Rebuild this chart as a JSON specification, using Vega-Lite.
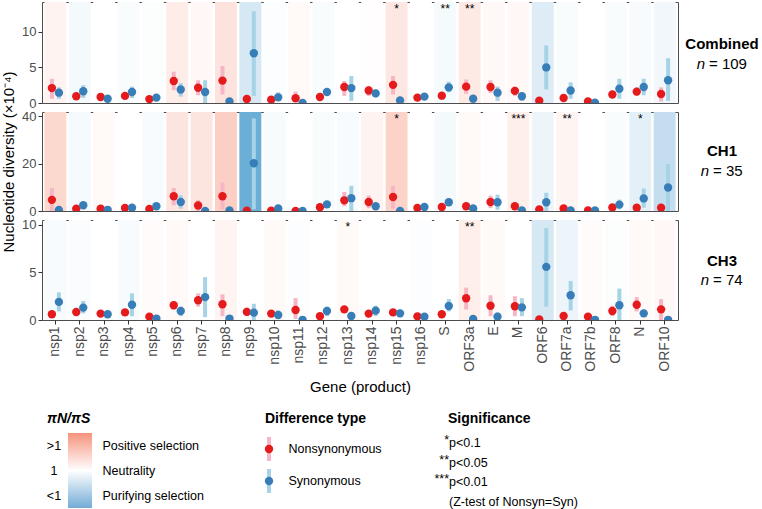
{
  "$schema": "https://vega.github.io/schema/vega-lite/v6.json",
  "padding": {"left": 1, "top": 1, "right": 0, "bottom": 0},
  "columns": 2,
  "align": "each",
  "bounds": "flush",
  "spacing": {"row": 9, "column": 4},
  "config": {
    "font": "Liberation Sans",
    "view": {"stroke": "#4d4d4d", "strokeWidth": 1},
    "axis": {"labelFont": "Liberation Sans", "titleFont": "Liberation Sans", "labelColor": "#4d4d4d", "tickColor": "#333333", "grid": false, "domain": false, "titleFontWeight": "normal", "titleColor": "#000000"},
    "title": {"font": "Liberation Sans", "fontWeight": "bold", "fontSize": 14, "anchor": "start", "color": "#000000", "offset": 7},
    "text": {"font": "Liberation Sans", "color": "#000000"}
  },
  "datasets": {
    "bg": [
      {"panel": "Combined", "gene": "nsp1", "pnps": 1.35}, {"panel": "Combined", "gene": "nsp2", "pnps": 0.8}, {"panel": "Combined", "gene": "nsp3", "pnps": 1.0}, {"panel": "Combined", "gene": "nsp4", "pnps": 0.88}, {"panel": "Combined", "gene": "nsp5", "pnps": 0.95}, {"panel": "Combined", "gene": "nsp6", "pnps": 1.6}, {"panel": "Combined", "gene": "nsp7", "pnps": 1.2}, {"panel": "Combined", "gene": "nsp8", "pnps": 2.0}, {"panel": "Combined", "gene": "nsp9", "pnps": 0.43}, {"panel": "Combined", "gene": "nsp10", "pnps": 0.92}, {"panel": "Combined", "gene": "nsp11", "pnps": 1.15}, {"panel": "Combined", "gene": "nsp12", "pnps": 0.88}, {"panel": "Combined", "gene": "nsp13", "pnps": 1.0}, {"panel": "Combined", "gene": "nsp14", "pnps": 1.05}, {"panel": "Combined", "gene": "nsp15", "pnps": 1.8}, {"panel": "Combined", "gene": "nsp16", "pnps": 1.0}, {"panel": "Combined", "gene": "S", "pnps": 0.82}, {"panel": "Combined", "gene": "ORF3a", "pnps": 1.7}, {"panel": "Combined", "gene": "E", "pnps": 1.2}, {"panel": "Combined", "gene": "M", "pnps": 1.2}, {"panel": "Combined", "gene": "ORF6", "pnps": 0.5}, {"panel": "Combined", "gene": "ORF7a", "pnps": 0.88}, {"panel": "Combined", "gene": "ORF7b", "pnps": 1.0}, {"panel": "Combined", "gene": "ORF8", "pnps": 0.88}, {"panel": "Combined", "gene": "N", "pnps": 0.86}, {"panel": "Combined", "gene": "ORF10", "pnps": 0.75},
      {"panel": "CH1", "gene": "nsp1", "pnps": 2.6}, {"panel": "CH1", "gene": "nsp2", "pnps": 0.82}, {"panel": "CH1", "gene": "nsp3", "pnps": 1.15}, {"panel": "CH1", "gene": "nsp4", "pnps": 1.0}, {"panel": "CH1", "gene": "nsp5", "pnps": 0.85}, {"panel": "CH1", "gene": "nsp6", "pnps": 1.9}, {"panel": "CH1", "gene": "nsp7", "pnps": 1.9}, {"panel": "CH1", "gene": "nsp8", "pnps": 3.3}, {"panel": "CH1", "gene": "nsp9", "pnps": 0.05}, {"panel": "CH1", "gene": "nsp10", "pnps": 0.85}, {"panel": "CH1", "gene": "nsp11", "pnps": 1.0}, {"panel": "CH1", "gene": "nsp12", "pnps": 0.88}, {"panel": "CH1", "gene": "nsp13", "pnps": 0.85}, {"panel": "CH1", "gene": "nsp14", "pnps": 1.35}, {"panel": "CH1", "gene": "nsp15", "pnps": 3.0}, {"panel": "CH1", "gene": "nsp16", "pnps": 1.0}, {"panel": "CH1", "gene": "S", "pnps": 0.8}, {"panel": "CH1", "gene": "ORF3a", "pnps": 1.15}, {"panel": "CH1", "gene": "E", "pnps": 1.05}, {"panel": "CH1", "gene": "M", "pnps": 1.5}, {"panel": "CH1", "gene": "ORF6", "pnps": 0.7}, {"panel": "CH1", "gene": "ORF7a", "pnps": 1.3}, {"panel": "CH1", "gene": "ORF7b", "pnps": 1.0}, {"panel": "CH1", "gene": "ORF8", "pnps": 0.88}, {"panel": "CH1", "gene": "N", "pnps": 0.58}, {"panel": "CH1", "gene": "ORF10", "pnps": 0.3},
      {"panel": "CH3", "gene": "nsp1", "pnps": 0.85}, {"panel": "CH3", "gene": "nsp2", "pnps": 0.9}, {"panel": "CH3", "gene": "nsp3", "pnps": 1.0}, {"panel": "CH3", "gene": "nsp4", "pnps": 0.85}, {"panel": "CH3", "gene": "nsp5", "pnps": 1.1}, {"panel": "CH3", "gene": "nsp6", "pnps": 1.15}, {"panel": "CH3", "gene": "nsp7", "pnps": 1.0}, {"panel": "CH3", "gene": "nsp8", "pnps": 1.3}, {"panel": "CH3", "gene": "nsp9", "pnps": 1.0}, {"panel": "CH3", "gene": "nsp10", "pnps": 1.15}, {"panel": "CH3", "gene": "nsp11", "pnps": 0.92}, {"panel": "CH3", "gene": "nsp12", "pnps": 1.0}, {"panel": "CH3", "gene": "nsp13", "pnps": 1.15}, {"panel": "CH3", "gene": "nsp14", "pnps": 1.0}, {"panel": "CH3", "gene": "nsp15", "pnps": 1.0}, {"panel": "CH3", "gene": "nsp16", "pnps": 0.92}, {"panel": "CH3", "gene": "S", "pnps": 1.0}, {"panel": "CH3", "gene": "ORF3a", "pnps": 1.5}, {"panel": "CH3", "gene": "E", "pnps": 1.15}, {"panel": "CH3", "gene": "M", "pnps": 1.0}, {"panel": "CH3", "gene": "ORF6", "pnps": 0.43}, {"panel": "CH3", "gene": "ORF7a", "pnps": 0.7}, {"panel": "CH3", "gene": "ORF7b", "pnps": 1.1}, {"panel": "CH3", "gene": "ORF8", "pnps": 0.95}, {"panel": "CH3", "gene": "N", "pnps": 1.15}, {"panel": "CH3", "gene": "ORF10", "pnps": 1.2}
    ],
    "pts": [
      {"panel": "Combined", "gene": "nsp1", "type": "Nonsynonymous", "pi": 2.1, "lo": 0.6, "hi": 3.4}, {"panel": "Combined", "gene": "nsp1", "type": "Synonymous", "pi": 1.45, "lo": 0.6, "hi": 2.2},
      {"panel": "Combined", "gene": "nsp2", "type": "Nonsynonymous", "pi": 0.95, "lo": 0.7, "hi": 1.2}, {"panel": "Combined", "gene": "nsp2", "type": "Synonymous", "pi": 1.65, "lo": 0.7, "hi": 2.5},
      {"panel": "Combined", "gene": "nsp3", "type": "Nonsynonymous", "pi": 0.85, "lo": 0.65, "hi": 1.1}, {"panel": "Combined", "gene": "nsp3", "type": "Synonymous", "pi": 0.6, "lo": 0.4, "hi": 0.8},
      {"panel": "Combined", "gene": "nsp4", "type": "Nonsynonymous", "pi": 1.0, "lo": 0.75, "hi": 1.3}, {"panel": "Combined", "gene": "nsp4", "type": "Synonymous", "pi": 1.55, "lo": 0.7, "hi": 2.3},
      {"panel": "Combined", "gene": "nsp5", "type": "Nonsynonymous", "pi": 0.55, "lo": 0.35, "hi": 0.8}, {"panel": "Combined", "gene": "nsp5", "type": "Synonymous", "pi": 0.75, "lo": 0.35, "hi": 1.1},
      {"panel": "Combined", "gene": "nsp6", "type": "Nonsynonymous", "pi": 3.1, "lo": 1.8, "hi": 4.4}, {"panel": "Combined", "gene": "nsp6", "type": "Synonymous", "pi": 1.9, "lo": 0.9, "hi": 2.8},
      {"panel": "Combined", "gene": "nsp7", "type": "Nonsynonymous", "pi": 2.15, "lo": 1.1, "hi": 3.2}, {"panel": "Combined", "gene": "nsp7", "type": "Synonymous", "pi": 1.55, "lo": 0.0, "hi": 3.2},
      {"panel": "Combined", "gene": "nsp8", "type": "Nonsynonymous", "pi": 3.15, "lo": 1.2, "hi": 5.2}, {"panel": "Combined", "gene": "nsp8", "type": "Synonymous", "pi": 0.23, "lo": 0.0, "hi": 0.6},
      {"panel": "Combined", "gene": "nsp9", "type": "Nonsynonymous", "pi": 0.57, "lo": 0.3, "hi": 0.85}, {"panel": "Combined", "gene": "nsp9", "type": "Synonymous", "pi": 7.0, "lo": 1.0, "hi": 12.9},
      {"panel": "Combined", "gene": "nsp10", "type": "Nonsynonymous", "pi": 0.47, "lo": 0.25, "hi": 0.7}, {"panel": "Combined", "gene": "nsp10", "type": "Synonymous", "pi": 0.8, "lo": 0.3, "hi": 1.5},
      {"panel": "Combined", "gene": "nsp11", "type": "Nonsynonymous", "pi": 0.66, "lo": 0.2, "hi": 1.6}, {"panel": "Combined", "gene": "nsp11", "type": "Synonymous", "pi": 0.02, "lo": 0.0, "hi": 0.2},
      {"panel": "Combined", "gene": "nsp12", "type": "Nonsynonymous", "pi": 0.85, "lo": 0.6, "hi": 1.1}, {"panel": "Combined", "gene": "nsp12", "type": "Synonymous", "pi": 1.55, "lo": 1.2, "hi": 1.9},
      {"panel": "Combined", "gene": "nsp13", "type": "Nonsynonymous", "pi": 2.25, "lo": 1.0, "hi": 3.1}, {"panel": "Combined", "gene": "nsp13", "type": "Synonymous", "pi": 2.1, "lo": 0.3, "hi": 3.8},
      {"panel": "Combined", "gene": "nsp14", "type": "Nonsynonymous", "pi": 1.75, "lo": 1.0, "hi": 2.4}, {"panel": "Combined", "gene": "nsp14", "type": "Synonymous", "pi": 1.35, "lo": 0.8, "hi": 1.9},
      {"panel": "Combined", "gene": "nsp15", "type": "Nonsynonymous", "pi": 2.55, "lo": 1.2, "hi": 3.8}, {"panel": "Combined", "gene": "nsp15", "type": "Synonymous", "pi": 0.37, "lo": 0.1, "hi": 0.7},
      {"panel": "Combined", "gene": "nsp16", "type": "Nonsynonymous", "pi": 0.75, "lo": 0.55, "hi": 0.95}, {"panel": "Combined", "gene": "nsp16", "type": "Synonymous", "pi": 0.9, "lo": 0.6, "hi": 1.2},
      {"panel": "Combined", "gene": "S", "type": "Nonsynonymous", "pi": 1.03, "lo": 0.8, "hi": 1.3}, {"panel": "Combined", "gene": "S", "type": "Synonymous", "pi": 2.2, "lo": 1.5, "hi": 3.0},
      {"panel": "Combined", "gene": "ORF3a", "type": "Nonsynonymous", "pi": 2.3, "lo": 1.3, "hi": 3.3}, {"panel": "Combined", "gene": "ORF3a", "type": "Synonymous", "pi": 0.6, "lo": 0.2, "hi": 1.0},
      {"panel": "Combined", "gene": "E", "type": "Nonsynonymous", "pi": 2.25, "lo": 1.4, "hi": 3.2}, {"panel": "Combined", "gene": "E", "type": "Synonymous", "pi": 1.45, "lo": 0.3, "hi": 2.3},
      {"panel": "Combined", "gene": "M", "type": "Nonsynonymous", "pi": 1.7, "lo": 1.0, "hi": 2.3}, {"panel": "Combined", "gene": "M", "type": "Synonymous", "pi": 0.95, "lo": 0.3, "hi": 1.5},
      {"panel": "Combined", "gene": "ORF6", "type": "Nonsynonymous", "pi": 0.33, "lo": 0.0, "hi": 0.7}, {"panel": "Combined", "gene": "ORF6", "type": "Synonymous", "pi": 5.0, "lo": 1.9, "hi": 8.1},
      {"panel": "Combined", "gene": "ORF7a", "type": "Nonsynonymous", "pi": 0.7, "lo": 0.4, "hi": 1.0}, {"panel": "Combined", "gene": "ORF7a", "type": "Synonymous", "pi": 1.75, "lo": 0.6, "hi": 2.9},
      {"panel": "Combined", "gene": "ORF7b", "type": "Nonsynonymous", "pi": 0.23, "lo": 0.0, "hi": 0.5}, {"panel": "Combined", "gene": "ORF7b", "type": "Synonymous", "pi": 0.05, "lo": 0.0, "hi": 0.2},
      {"panel": "Combined", "gene": "ORF8", "type": "Nonsynonymous", "pi": 1.2, "lo": 0.7, "hi": 1.7}, {"panel": "Combined", "gene": "ORF8", "type": "Synonymous", "pi": 2.0, "lo": 0.6, "hi": 3.4},
      {"panel": "Combined", "gene": "N", "type": "Nonsynonymous", "pi": 1.6, "lo": 1.0, "hi": 2.2}, {"panel": "Combined", "gene": "N", "type": "Synonymous", "pi": 2.25, "lo": 1.1, "hi": 3.4},
      {"panel": "Combined", "gene": "ORF10", "type": "Nonsynonymous", "pi": 1.27, "lo": 0.2, "hi": 2.2}, {"panel": "Combined", "gene": "ORF10", "type": "Synonymous", "pi": 3.2, "lo": 0.3, "hi": 6.3},

      {"panel": "CH1", "gene": "nsp1", "type": "Nonsynonymous", "pi": 4.7, "lo": 0.0, "hi": 9.7}, {"panel": "CH1", "gene": "nsp1", "type": "Synonymous", "pi": 0.4, "lo": 0.0, "hi": 1.2},
      {"panel": "CH1", "gene": "nsp2", "type": "Nonsynonymous", "pi": 1.0, "lo": 0.3, "hi": 1.8}, {"panel": "CH1", "gene": "nsp2", "type": "Synonymous", "pi": 2.4, "lo": 1.0, "hi": 3.8},
      {"panel": "CH1", "gene": "nsp3", "type": "Nonsynonymous", "pi": 1.0, "lo": 0.4, "hi": 1.7}, {"panel": "CH1", "gene": "nsp3", "type": "Synonymous", "pi": 0.5, "lo": 0.0, "hi": 1.2},
      {"panel": "CH1", "gene": "nsp4", "type": "Nonsynonymous", "pi": 1.3, "lo": 0.5, "hi": 2.0}, {"panel": "CH1", "gene": "nsp4", "type": "Synonymous", "pi": 1.4, "lo": 0.5, "hi": 2.4},
      {"panel": "CH1", "gene": "nsp5", "type": "Nonsynonymous", "pi": 0.85, "lo": 0.2, "hi": 1.6}, {"panel": "CH1", "gene": "nsp5", "type": "Synonymous", "pi": 2.0, "lo": 0.8, "hi": 3.2},
      {"panel": "CH1", "gene": "nsp6", "type": "Nonsynonymous", "pi": 6.2, "lo": 2.4, "hi": 9.7}, {"panel": "CH1", "gene": "nsp6", "type": "Synonymous", "pi": 3.8, "lo": 1.0, "hi": 6.6},
      {"panel": "CH1", "gene": "nsp7", "type": "Nonsynonymous", "pi": 2.3, "lo": 0.0, "hi": 4.6}, {"panel": "CH1", "gene": "nsp7", "type": "Synonymous", "pi": 0.05, "lo": 0.0, "hi": 0.5},
      {"panel": "CH1", "gene": "nsp8", "type": "Nonsynonymous", "pi": 6.2, "lo": 0.7, "hi": 12.0}, {"panel": "CH1", "gene": "nsp8", "type": "Synonymous", "pi": 0.2, "lo": 0.0, "hi": 1.0},
      {"panel": "CH1", "gene": "nsp9", "type": "Nonsynonymous", "pi": 0.1, "lo": 0.0, "hi": 0.8}, {"panel": "CH1", "gene": "nsp9", "type": "Synonymous", "pi": 20.1, "lo": 0.7, "hi": 39.0},
      {"panel": "CH1", "gene": "nsp10", "type": "Nonsynonymous", "pi": 0.1, "lo": 0.0, "hi": 0.4}, {"panel": "CH1", "gene": "nsp10", "type": "Synonymous", "pi": 1.1, "lo": 0.0, "hi": 2.2},
      {"panel": "CH1", "gene": "nsp11", "type": "Nonsynonymous", "pi": 0.02, "lo": 0.0, "hi": 0.2}, {"panel": "CH1", "gene": "nsp11", "type": "Synonymous", "pi": 0.02, "lo": 0.0, "hi": 0.2},
      {"panel": "CH1", "gene": "nsp12", "type": "Nonsynonymous", "pi": 1.6, "lo": 0.6, "hi": 2.6}, {"panel": "CH1", "gene": "nsp12", "type": "Synonymous", "pi": 2.8, "lo": 1.5, "hi": 4.0},
      {"panel": "CH1", "gene": "nsp13", "type": "Nonsynonymous", "pi": 4.5, "lo": 2.0, "hi": 8.0}, {"panel": "CH1", "gene": "nsp13", "type": "Synonymous", "pi": 5.4, "lo": 0.0, "hi": 10.6},
      {"panel": "CH1", "gene": "nsp14", "type": "Nonsynonymous", "pi": 3.8, "lo": 1.2, "hi": 6.5}, {"panel": "CH1", "gene": "nsp14", "type": "Synonymous", "pi": 2.0, "lo": 0.8, "hi": 3.2},
      {"panel": "CH1", "gene": "nsp15", "type": "Nonsynonymous", "pi": 5.9, "lo": 1.0, "hi": 10.6}, {"panel": "CH1", "gene": "nsp15", "type": "Synonymous", "pi": 0.05, "lo": 0.0, "hi": 0.5},
      {"panel": "CH1", "gene": "nsp16", "type": "Nonsynonymous", "pi": 1.3, "lo": 0.4, "hi": 2.2}, {"panel": "CH1", "gene": "nsp16", "type": "Synonymous", "pi": 1.7, "lo": 0.6, "hi": 2.8},
      {"panel": "CH1", "gene": "S", "type": "Nonsynonymous", "pi": 1.7, "lo": 0.9, "hi": 2.5}, {"panel": "CH1", "gene": "S", "type": "Synonymous", "pi": 3.7, "lo": 2.4, "hi": 5.4},
      {"panel": "CH1", "gene": "ORF3a", "type": "Nonsynonymous", "pi": 2.0, "lo": 0.7, "hi": 3.4}, {"panel": "CH1", "gene": "ORF3a", "type": "Synonymous", "pi": 1.1, "lo": 0.0, "hi": 2.4},
      {"panel": "CH1", "gene": "E", "type": "Nonsynonymous", "pi": 3.8, "lo": 1.2, "hi": 6.5}, {"panel": "CH1", "gene": "E", "type": "Synonymous", "pi": 3.7, "lo": 0.5, "hi": 6.9},
      {"panel": "CH1", "gene": "M", "type": "Nonsynonymous", "pi": 2.0, "lo": 1.0, "hi": 3.0}, {"panel": "CH1", "gene": "M", "type": "Synonymous", "pi": 0.2, "lo": 0.0, "hi": 0.8},
      {"panel": "CH1", "gene": "ORF6", "type": "Nonsynonymous", "pi": 0.7, "lo": 0.0, "hi": 1.6}, {"panel": "CH1", "gene": "ORF6", "type": "Synonymous", "pi": 3.7, "lo": 0.0, "hi": 7.7},
      {"panel": "CH1", "gene": "ORF7a", "type": "Nonsynonymous", "pi": 1.1, "lo": 0.3, "hi": 2.0}, {"panel": "CH1", "gene": "ORF7a", "type": "Synonymous", "pi": 0.2, "lo": 0.0, "hi": 0.8},
      {"panel": "CH1", "gene": "ORF7b", "type": "Nonsynonymous", "pi": 0.2, "lo": 0.0, "hi": 0.6}, {"panel": "CH1", "gene": "ORF7b", "type": "Synonymous", "pi": 0.2, "lo": 0.0, "hi": 0.6},
      {"panel": "CH1", "gene": "ORF8", "type": "Nonsynonymous", "pi": 1.5, "lo": 0.5, "hi": 2.5}, {"panel": "CH1", "gene": "ORF8", "type": "Synonymous", "pi": 2.7, "lo": 0.7, "hi": 4.8},
      {"panel": "CH1", "gene": "N", "type": "Nonsynonymous", "pi": 1.4, "lo": 0.7, "hi": 2.2}, {"panel": "CH1", "gene": "N", "type": "Synonymous", "pi": 5.3, "lo": 1.4, "hi": 9.5},
      {"panel": "CH1", "gene": "ORF10", "type": "Nonsynonymous", "pi": 1.4, "lo": 0.0, "hi": 3.0}, {"panel": "CH1", "gene": "ORF10", "type": "Synonymous", "pi": 9.9, "lo": 0.0, "hi": 19.8},

      {"panel": "CH3", "gene": "nsp1", "type": "Nonsynonymous", "pi": 0.6, "lo": 0.4, "hi": 0.8}, {"panel": "CH3", "gene": "nsp1", "type": "Synonymous", "pi": 1.9, "lo": 0.9, "hi": 2.9},
      {"panel": "CH3", "gene": "nsp2", "type": "Nonsynonymous", "pi": 0.84, "lo": 0.6, "hi": 1.1}, {"panel": "CH3", "gene": "nsp2", "type": "Synonymous", "pi": 1.3, "lo": 0.7, "hi": 2.0},
      {"panel": "CH3", "gene": "nsp3", "type": "Nonsynonymous", "pi": 0.67, "lo": 0.5, "hi": 0.9}, {"panel": "CH3", "gene": "nsp3", "type": "Synonymous", "pi": 0.6, "lo": 0.4, "hi": 0.8},
      {"panel": "CH3", "gene": "nsp4", "type": "Nonsynonymous", "pi": 0.8, "lo": 0.6, "hi": 1.0}, {"panel": "CH3", "gene": "nsp4", "type": "Synonymous", "pi": 1.6, "lo": 0.4, "hi": 2.8},
      {"panel": "CH3", "gene": "nsp5", "type": "Nonsynonymous", "pi": 0.35, "lo": 0.15, "hi": 0.55}, {"panel": "CH3", "gene": "nsp5", "type": "Synonymous", "pi": 0.15, "lo": 0.0, "hi": 0.4},
      {"panel": "CH3", "gene": "nsp6", "type": "Nonsynonymous", "pi": 1.55, "lo": 1.1, "hi": 2.0}, {"panel": "CH3", "gene": "nsp6", "type": "Synonymous", "pi": 0.95, "lo": 0.4, "hi": 1.4},
      {"panel": "CH3", "gene": "nsp7", "type": "Nonsynonymous", "pi": 2.07, "lo": 1.4, "hi": 2.8}, {"panel": "CH3", "gene": "nsp7", "type": "Synonymous", "pi": 2.4, "lo": 0.3, "hi": 4.5},
      {"panel": "CH3", "gene": "nsp8", "type": "Nonsynonymous", "pi": 1.65, "lo": 0.4, "hi": 2.7}, {"panel": "CH3", "gene": "nsp8", "type": "Synonymous", "pi": 0.15, "lo": 0.0, "hi": 0.4},
      {"panel": "CH3", "gene": "nsp9", "type": "Nonsynonymous", "pi": 0.85, "lo": 0.4, "hi": 1.3}, {"panel": "CH3", "gene": "nsp9", "type": "Synonymous", "pi": 0.77, "lo": 0.0, "hi": 1.7},
      {"panel": "CH3", "gene": "nsp10", "type": "Nonsynonymous", "pi": 0.67, "lo": 0.45, "hi": 0.9}, {"panel": "CH3", "gene": "nsp10", "type": "Synonymous", "pi": 0.53, "lo": 0.1, "hi": 1.0},
      {"panel": "CH3", "gene": "nsp11", "type": "Nonsynonymous", "pi": 1.05, "lo": 0.1, "hi": 2.3}, {"panel": "CH3", "gene": "nsp11", "type": "Synonymous", "pi": 0.02, "lo": 0.0, "hi": 0.2},
      {"panel": "CH3", "gene": "nsp12", "type": "Nonsynonymous", "pi": 0.4, "lo": 0.2, "hi": 0.6}, {"panel": "CH3", "gene": "nsp12", "type": "Synonymous", "pi": 0.95, "lo": 0.4, "hi": 1.4},
      {"panel": "CH3", "gene": "nsp13", "type": "Nonsynonymous", "pi": 1.12, "lo": 0.8, "hi": 1.4}, {"panel": "CH3", "gene": "nsp13", "type": "Synonymous", "pi": 0.42, "lo": 0.2, "hi": 0.6},
      {"panel": "CH3", "gene": "nsp14", "type": "Nonsynonymous", "pi": 0.67, "lo": 0.45, "hi": 0.9}, {"panel": "CH3", "gene": "nsp14", "type": "Synonymous", "pi": 0.98, "lo": 0.4, "hi": 1.5},
      {"panel": "CH3", "gene": "nsp15", "type": "Nonsynonymous", "pi": 0.8, "lo": 0.55, "hi": 1.05}, {"panel": "CH3", "gene": "nsp15", "type": "Synonymous", "pi": 0.7, "lo": 0.3, "hi": 1.1},
      {"panel": "CH3", "gene": "nsp16", "type": "Nonsynonymous", "pi": 0.38, "lo": 0.2, "hi": 0.6}, {"panel": "CH3", "gene": "nsp16", "type": "Synonymous", "pi": 0.35, "lo": 0.1, "hi": 0.6},
      {"panel": "CH3", "gene": "S", "type": "Nonsynonymous", "pi": 0.6, "lo": 0.4, "hi": 0.8}, {"panel": "CH3", "gene": "S", "type": "Synonymous", "pi": 1.47, "lo": 0.9, "hi": 2.2},
      {"panel": "CH3", "gene": "ORF3a", "type": "Nonsynonymous", "pi": 2.28, "lo": 1.1, "hi": 3.4}, {"panel": "CH3", "gene": "ORF3a", "type": "Synonymous", "pi": 0.1, "lo": 0.0, "hi": 0.3},
      {"panel": "CH3", "gene": "E", "type": "Nonsynonymous", "pi": 1.5, "lo": 0.4, "hi": 2.6}, {"panel": "CH3", "gene": "E", "type": "Synonymous", "pi": 0.35, "lo": 0.0, "hi": 0.8},
      {"panel": "CH3", "gene": "M", "type": "Nonsynonymous", "pi": 1.44, "lo": 0.4, "hi": 2.5}, {"panel": "CH3", "gene": "M", "type": "Synonymous", "pi": 1.33, "lo": 0.4, "hi": 2.3},
      {"panel": "CH3", "gene": "ORF6", "type": "Nonsynonymous", "pi": 0.05, "lo": 0.0, "hi": 0.2}, {"panel": "CH3", "gene": "ORF6", "type": "Synonymous", "pi": 5.58, "lo": 1.4, "hi": 9.65},
      {"panel": "CH3", "gene": "ORF7a", "type": "Nonsynonymous", "pi": 0.42, "lo": 0.2, "hi": 0.7}, {"panel": "CH3", "gene": "ORF7a", "type": "Synonymous", "pi": 2.6, "lo": 1.0, "hi": 4.1},
      {"panel": "CH3", "gene": "ORF7b", "type": "Nonsynonymous", "pi": 0.35, "lo": 0.1, "hi": 0.6}, {"panel": "CH3", "gene": "ORF7b", "type": "Synonymous", "pi": 0.02, "lo": 0.0, "hi": 0.15},
      {"panel": "CH3", "gene": "ORF8", "type": "Nonsynonymous", "pi": 0.95, "lo": 0.4, "hi": 1.5}, {"panel": "CH3", "gene": "ORF8", "type": "Synonymous", "pi": 1.55, "lo": 0.0, "hi": 3.3},
      {"panel": "CH3", "gene": "N", "type": "Nonsynonymous", "pi": 1.6, "lo": 0.9, "hi": 2.4}, {"panel": "CH3", "gene": "N", "type": "Synonymous", "pi": 0.7, "lo": 0.3, "hi": 1.1},
      {"panel": "CH3", "gene": "ORF10", "type": "Nonsynonymous", "pi": 1.12, "lo": 0.0, "hi": 2.2}, {"panel": "CH3", "gene": "ORF10", "type": "Synonymous", "pi": 0.02, "lo": 0.0, "hi": 0.1}
    ],
    "sig": [
      {"panel": "Combined", "gene": "nsp15", "sig": "*"}, {"panel": "Combined", "gene": "S", "sig": "**"}, {"panel": "Combined", "gene": "ORF3a", "sig": "**"},
      {"panel": "CH1", "gene": "nsp15", "sig": "*"}, {"panel": "CH1", "gene": "M", "sig": "***"}, {"panel": "CH1", "gene": "ORF7a", "sig": "**"}, {"panel": "CH1", "gene": "N", "sig": "*"},
      {"panel": "CH3", "gene": "nsp13", "sig": "*"}, {"panel": "CH3", "gene": "ORF3a", "sig": "**"}
    ]
  },
  "concat": [
    {
      "width": 636, "height": 101,
      "layer": [
        {"data": {"name": "bg"}, "transform": [{"filter": "datum.panel === 'Combined'"}], "mark": {"type": "rect", "strokeWidth": 0},
         "encoding": {"x": {"field": "gene", "type": "nominal", "sort": null, "scale": {"domain": ["nsp1","nsp2","nsp3","nsp4","nsp5","nsp6","nsp7","nsp8","nsp9","nsp10","nsp11","nsp12","nsp13","nsp14","nsp15","nsp16","S","ORF3a","E","M","ORF6","ORF7a","ORF7b","ORF8","N","ORF10"], "paddingInner": 0.1, "paddingOuter": 0.1}, "axis": null},
           "fill": {"field": "pnps", "type": "quantitative", "scale": {"type": "log", "domain": [0.05, 1, 20], "range": ["#6baed6", "#ffffff", "#f7876a"], "interpolate": "rgb", "clamp": true}, "legend": null}}},
        {"data": {"name": "pts"}, "transform": [{"filter": "datum.panel === 'Combined' && datum.type === 'Nonsynonymous'"}], "mark": {"type": "rule", "strokeWidth": 4, "clip": true, "xOffset": -3.5, "color": "#f7b6c6"},
         "encoding": {"x": {"field": "gene", "type": "nominal", "sort": null, "axis": null},
           "y": {"field": "lo", "type": "quantitative", "scale": {"domain": [0, 14.2], "nice": false, "zero": true}, "axis": {"values": [0, 5, 10], "title": null, "labelFontSize": 13, "tickSize": 4, "labelPadding": 2}},
           "y2": {"field": "hi"}}},
        {"data": {"name": "pts"}, "transform": [{"filter": "datum.panel === 'Combined' && datum.type === 'Synonymous'"}], "mark": {"type": "rule", "strokeWidth": 4, "clip": true, "xOffset": 3.5, "color": "#a6d3e6"},
         "encoding": {"x": {"field": "gene", "type": "nominal", "sort": null, "axis": null}, "y": {"field": "lo", "type": "quantitative"}, "y2": {"field": "hi"}}},
        {"data": {"name": "pts"}, "transform": [{"filter": "datum.panel === 'Combined' && datum.type === 'Nonsynonymous'"}], "mark": {"type": "circle", "size": 70, "opacity": 1, "clip": true, "xOffset": -3.5, "color": "#e41a1c"},
         "encoding": {"x": {"field": "gene", "type": "nominal", "sort": null, "axis": null}, "y": {"field": "pi", "type": "quantitative"}}},
        {"data": {"name": "pts"}, "transform": [{"filter": "datum.panel === 'Combined' && datum.type === 'Synonymous'"}], "mark": {"type": "circle", "size": 70, "opacity": 1, "clip": true, "xOffset": 3.5, "color": "#377eb8"},
         "encoding": {"x": {"field": "gene", "type": "nominal", "sort": null, "axis": null}, "y": {"field": "pi", "type": "quantitative"}}},
        {"data": {"name": "sig"}, "transform": [{"filter": "datum.panel === 'Combined'"}], "mark": {"type": "text", "baseline": "top", "dy": 2, "fontSize": 12},
         "encoding": {"x": {"field": "gene", "type": "nominal", "sort": null, "axis": null}, "y": {"datum": 14.2}, "text": {"field": "sig"}}}
      ]
    },
    {
      "width": 80, "height": 101, "view": {"stroke": null},
      "data": {"values": [{"line": "name", "label": "Combined"}, {"line": "n", "label": "= 109", "var": "n"}]},
      "layer": [
        {"transform": [{"filter": "datum.line === 'name'"}], "mark": {"type": "text", "fontSize": 15, "fontWeight": "bold", "align": "center"}, "encoding": {"y": {"field": "line", "type": "nominal", "scale": {"type": "point", "domain": ["name", "n"], "range": [42, 62], "padding": 0}, "axis": null}, "text": {"field": "label"}}},
        {"transform": [{"filter": "datum.line === 'n'"}], "mark": {"type": "text", "fontSize": 15, "align": "left", "dx": -13}, "encoding": {"y": {"field": "line", "type": "nominal", "axis": null}, "text": {"field": "label"}}},
        {"transform": [{"filter": "datum.line === 'n'"}], "mark": {"type": "text", "fontSize": 15, "fontStyle": "italic", "align": "right", "dx": -17}, "encoding": {"y": {"field": "line", "type": "nominal", "axis": null}, "text": {"field": "var"}}}
      ]
    },
    {
      "width": 636, "height": 99,
      "layer": [
        {"data": {"name": "bg"}, "transform": [{"filter": "datum.panel === 'CH1'"}], "mark": {"type": "rect", "strokeWidth": 0},
         "encoding": {"x": {"field": "gene", "type": "nominal", "sort": null, "scale": {"domain": ["nsp1","nsp2","nsp3","nsp4","nsp5","nsp6","nsp7","nsp8","nsp9","nsp10","nsp11","nsp12","nsp13","nsp14","nsp15","nsp16","S","ORF3a","E","M","ORF6","ORF7a","ORF7b","ORF8","N","ORF10"], "paddingInner": 0.1, "paddingOuter": 0.1}, "axis": null},
           "fill": {"field": "pnps", "type": "quantitative", "scale": {"type": "log", "domain": [0.05, 1, 20], "range": ["#6baed6", "#ffffff", "#f7876a"], "interpolate": "rgb", "clamp": true}, "legend": null}}},
        {"data": {"name": "pts"}, "transform": [{"filter": "datum.panel === 'CH1' && datum.type === 'Nonsynonymous'"}], "mark": {"type": "rule", "strokeWidth": 4, "clip": true, "xOffset": -3.5, "color": "#f7b6c6"},
         "encoding": {"x": {"field": "gene", "type": "nominal", "sort": null, "axis": null},
           "y": {"field": "lo", "type": "quantitative", "scale": {"domain": [0, 41.7], "nice": false, "zero": true}, "axis": {"values": [0, 20, 40], "title": "Nucleotide diversity (×10⁻⁴)", "titleFontSize": 15, "titlePadding": 5, "labelFontSize": 13, "tickSize": 4, "labelPadding": 2}},
           "y2": {"field": "hi"}}},
        {"data": {"name": "pts"}, "transform": [{"filter": "datum.panel === 'CH1' && datum.type === 'Synonymous'"}], "mark": {"type": "rule", "strokeWidth": 4, "clip": true, "xOffset": 3.5, "color": "#a6d3e6"},
         "encoding": {"x": {"field": "gene", "type": "nominal", "sort": null, "axis": null}, "y": {"field": "lo", "type": "quantitative"}, "y2": {"field": "hi"}}},
        {"data": {"name": "pts"}, "transform": [{"filter": "datum.panel === 'CH1' && datum.type === 'Nonsynonymous'"}], "mark": {"type": "circle", "size": 70, "opacity": 1, "clip": true, "xOffset": -3.5, "color": "#e41a1c"},
         "encoding": {"x": {"field": "gene", "type": "nominal", "sort": null, "axis": null}, "y": {"field": "pi", "type": "quantitative"}}},
        {"data": {"name": "pts"}, "transform": [{"filter": "datum.panel === 'CH1' && datum.type === 'Synonymous'"}], "mark": {"type": "circle", "size": 70, "opacity": 1, "clip": true, "xOffset": 3.5, "color": "#377eb8"},
         "encoding": {"x": {"field": "gene", "type": "nominal", "sort": null, "axis": null}, "y": {"field": "pi", "type": "quantitative"}}},
        {"data": {"name": "sig"}, "transform": [{"filter": "datum.panel === 'CH1'"}], "mark": {"type": "text", "baseline": "top", "dy": 2, "fontSize": 12},
         "encoding": {"x": {"field": "gene", "type": "nominal", "sort": null, "axis": null}, "y": {"datum": 41.7}, "text": {"field": "sig"}}}
      ]
    },
    {
      "width": 80, "height": 99, "view": {"stroke": null},
      "data": {"values": [{"line": "name", "label": "CH1"}, {"line": "n", "label": "= 35", "var": "n"}]},
      "layer": [
        {"transform": [{"filter": "datum.line === 'name'"}], "mark": {"type": "text", "fontSize": 15, "fontWeight": "bold", "align": "center"}, "encoding": {"y": {"field": "line", "type": "nominal", "scale": {"type": "point", "domain": ["name", "n"], "range": [39, 59], "padding": 0}, "axis": null}, "text": {"field": "label"}}},
        {"transform": [{"filter": "datum.line === 'n'"}], "mark": {"type": "text", "fontSize": 15, "align": "left", "dx": -9}, "encoding": {"y": {"field": "line", "type": "nominal", "axis": null}, "text": {"field": "label"}}},
        {"transform": [{"filter": "datum.line === 'n'"}], "mark": {"type": "text", "fontSize": 15, "fontStyle": "italic", "align": "right", "dx": -13}, "encoding": {"y": {"field": "line", "type": "nominal", "axis": null}, "text": {"field": "var"}}}
      ]
    },
    {
      "width": 636, "height": 100,
      "layer": [
        {"data": {"name": "bg"}, "transform": [{"filter": "datum.panel === 'CH3'"}], "mark": {"type": "rect", "strokeWidth": 0},
         "encoding": {"x": {"field": "gene", "type": "nominal", "sort": null, "scale": {"domain": ["nsp1","nsp2","nsp3","nsp4","nsp5","nsp6","nsp7","nsp8","nsp9","nsp10","nsp11","nsp12","nsp13","nsp14","nsp15","nsp16","S","ORF3a","E","M","ORF6","ORF7a","ORF7b","ORF8","N","ORF10"], "paddingInner": 0.1, "paddingOuter": 0.1}, "axis": {"title": "Gene (product)", "titleFontSize": 15, "titlePadding": 8, "labelAngle": -90, "labelFontSize": 14, "tickSize": 4, "labelPadding": 2}},
           "fill": {"field": "pnps", "type": "quantitative", "scale": {"type": "log", "domain": [0.05, 1, 20], "range": ["#6baed6", "#ffffff", "#f7876a"], "interpolate": "rgb", "clamp": true}, "legend": null}}},
        {"data": {"name": "pts"}, "transform": [{"filter": "datum.panel === 'CH3' && datum.type === 'Nonsynonymous'"}], "mark": {"type": "rule", "strokeWidth": 4, "clip": true, "xOffset": -3.5, "color": "#f7b6c6"},
         "encoding": {"x": {"field": "gene", "type": "nominal", "sort": null, "axis": {"title": "Gene (product)", "titleFontSize": 15, "titlePadding": 8, "labelAngle": -90, "labelFontSize": 14, "tickSize": 4, "labelPadding": 2}},
           "y": {"field": "lo", "type": "quantitative", "scale": {"domain": [0, 10.5], "nice": false, "zero": true}, "axis": {"values": [0, 5, 10], "title": null, "labelFontSize": 13, "tickSize": 4, "labelPadding": 2}},
           "y2": {"field": "hi"}}},
        {"data": {"name": "pts"}, "transform": [{"filter": "datum.panel === 'CH3' && datum.type === 'Synonymous'"}], "mark": {"type": "rule", "strokeWidth": 4, "clip": true, "xOffset": 3.5, "color": "#a6d3e6"},
         "encoding": {"x": {"field": "gene", "type": "nominal", "sort": null, "axis": {"title": "Gene (product)", "titleFontSize": 15, "titlePadding": 8, "labelAngle": -90, "labelFontSize": 14, "tickSize": 4, "labelPadding": 2}}, "y": {"field": "lo", "type": "quantitative"}, "y2": {"field": "hi"}}},
        {"data": {"name": "pts"}, "transform": [{"filter": "datum.panel === 'CH3' && datum.type === 'Nonsynonymous'"}], "mark": {"type": "circle", "size": 70, "opacity": 1, "clip": true, "xOffset": -3.5, "color": "#e41a1c"},
         "encoding": {"x": {"field": "gene", "type": "nominal", "sort": null, "axis": {"title": "Gene (product)", "titleFontSize": 15, "titlePadding": 8, "labelAngle": -90, "labelFontSize": 14, "tickSize": 4, "labelPadding": 2}}, "y": {"field": "pi", "type": "quantitative"}}},
        {"data": {"name": "pts"}, "transform": [{"filter": "datum.panel === 'CH3' && datum.type === 'Synonymous'"}], "mark": {"type": "circle", "size": 70, "opacity": 1, "clip": true, "xOffset": 3.5, "color": "#377eb8"},
         "encoding": {"x": {"field": "gene", "type": "nominal", "sort": null, "axis": {"title": "Gene (product)", "titleFontSize": 15, "titlePadding": 8, "labelAngle": -90, "labelFontSize": 14, "tickSize": 4, "labelPadding": 2}}, "y": {"field": "pi", "type": "quantitative"}}},
        {"data": {"name": "sig"}, "transform": [{"filter": "datum.panel === 'CH3'"}], "mark": {"type": "text", "baseline": "top", "dy": 2, "fontSize": 12},
         "encoding": {"x": {"field": "gene", "type": "nominal", "sort": null, "axis": {"title": "Gene (product)", "titleFontSize": 15, "titlePadding": 8, "labelAngle": -90, "labelFontSize": 14, "tickSize": 4, "labelPadding": 2}}, "y": {"datum": 10.5}, "text": {"field": "sig"}}}
      ]
    },
    {
      "width": 80, "height": 204, "view": {"stroke": null},
      "data": {"values": [{"line": "name", "label": "CH3"}, {"line": "n", "label": "= 74", "var": "n"}]},
      "layer": [
        {"transform": [{"filter": "datum.line === 'name'"}], "mark": {"type": "text", "fontSize": 15, "fontWeight": "bold", "align": "center"}, "encoding": {"y": {"field": "line", "type": "nominal", "scale": {"type": "point", "domain": ["name", "n"], "range": [41, 60], "padding": 0}, "axis": null}, "text": {"field": "label"}}},
        {"transform": [{"filter": "datum.line === 'n'"}], "mark": {"type": "text", "fontSize": 15, "align": "left", "dx": -9}, "encoding": {"y": {"field": "line", "type": "nominal", "axis": null}, "text": {"field": "label"}}},
        {"transform": [{"filter": "datum.line === 'n'"}], "mark": {"type": "text", "fontSize": 15, "fontStyle": "italic", "align": "right", "dx": -13}, "encoding": {"y": {"field": "line", "type": "nominal", "axis": null}, "text": {"field": "var"}}}
      ]
    },
    {
      "spacing": 60,
      "hconcat": [
        {
          "title": {"text": "πN/πS", "fontStyle": "italic", "frame": "group", "anchor": "start", "dx": 5},
          "width": 50, "height": 75, "view": {"stroke": null},
          "data": {"values": [{"sym": ">1", "desc": "Positive selection"}, {"sym": "1", "desc": "Neutrality"}, {"sym": "<1", "desc": "Purifying selection"}]},
          "layer": [
            {"mark": {"type": "rect", "color": {"gradient": "linear", "x1": 0, "y1": 0, "x2": 0, "y2": 1, "stops": [{"offset": 0, "color": "#f6937b"}, {"offset": 0.5, "color": "#ffffff"}, {"offset": 1, "color": "#72acd6"}]}},
             "encoding": {"x": {"datum": "bar", "type": "nominal", "scale": {"domain": ["lab", "bar"], "paddingInner": 0.08, "paddingOuter": 0}, "axis": null}}},
            {"mark": {"type": "text", "fontSize": 12.5, "align": "center"},
             "encoding": {"x": {"datum": "lab", "type": "nominal"}, "y": {"field": "sym", "type": "nominal", "scale": {"domain": [">1", "1", "<1"]}, "axis": null}, "text": {"field": "sym"}}},
            {"mark": {"type": "point", "opacity": 0},
             "encoding": {"x": {"datum": "bar", "type": "nominal"}, "y": {"field": "desc", "type": "nominal", "scale": {"domain": ["Positive selection", "Neutrality", "Purifying selection"]}, "axis": {"orient": "right", "title": null, "ticks": false, "domain": false, "labelPadding": 10, "labelFontSize": 12.5, "labelColor": "#000000"}}}}
          ],
          "resolve": {"scale": {"y": "independent"}}
        },
        {
          "spacing": 52,
          "hconcat": [
            {
              "title": {"text": "Difference type", "frame": "group", "anchor": "start"},
              "width": 8, "height": 64, "view": {"stroke": null},
              "data": {"values": [{"type": "Nonsynonymous"}, {"type": "Synonymous"}]},
              "layer": [
                {"transform": [{"filter": "datum.type === 'Nonsynonymous'"}], "mark": {"type": "tick", "orient": "vertical", "thickness": 4, "size": 24, "color": "#f7b6c6", "opacity": 1},
                 "encoding": {"y": {"field": "type", "type": "nominal", "scale": {"type": "band", "domain": ["Nonsynonymous", "Synonymous"], "paddingInner": 0, "paddingOuter": 0}, "axis": {"orient": "right", "title": null, "ticks": false, "domain": false, "labelPadding": 15, "labelFontSize": 12.5, "labelColor": "#000000"}}}},
                {"transform": [{"filter": "datum.type === 'Synonymous'"}], "mark": {"type": "tick", "orient": "vertical", "thickness": 4, "size": 24, "color": "#a6d3e6", "opacity": 1},
                 "encoding": {"y": {"field": "type", "type": "nominal"}}},
                {"transform": [{"filter": "datum.type === 'Nonsynonymous'"}], "mark": {"type": "circle", "size": 70, "opacity": 1, "color": "#e41a1c"},
                 "encoding": {"y": {"field": "type", "type": "nominal"}}},
                {"transform": [{"filter": "datum.type === 'Synonymous'"}], "mark": {"type": "circle", "size": 70, "opacity": 1, "color": "#377eb8"},
                 "encoding": {"y": {"field": "type", "type": "nominal"}}}
              ]
            },
            {
              "title": {"text": "Significance", "frame": "group", "anchor": "start"},
              "width": 2, "height": 79, "view": {"stroke": null},
              "data": {"values": [{"row": "a", "stars": "*", "label": "p<0.1"}, {"row": "b", "stars": "**", "label": "p<0.05"}, {"row": "c", "stars": "***", "label": "p<0.01"}, {"row": "d", "stars": "", "label": "(Z-test of Nonsyn=Syn)"}]},
              "layer": [
                {"mark": {"type": "text", "align": "right", "fontSize": 12.5, "dy": -3}, "encoding": {"y": {"field": "row", "type": "nominal", "scale": {"type": "point", "padding": 0.49}, "axis": null}, "text": {"field": "stars"}}},
                {"mark": {"type": "text", "align": "left", "fontSize": 12.5}, "encoding": {"y": {"field": "row", "type": "nominal", "axis": null}, "text": {"field": "label"}}}
              ]
            }
          ]
        }
      ]
    }
  ]
}
